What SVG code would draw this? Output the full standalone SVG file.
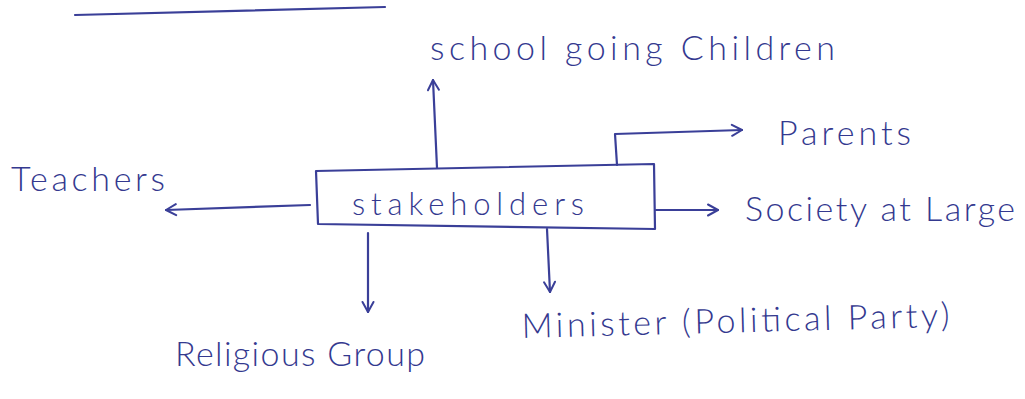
<svg xmlns="http://www.w3.org/2000/svg" width="1025" height="399" viewBox="0 0 1025 399">
  <style>
    .ink { fill: none; stroke: #3a3f98; stroke-width: 2.2; stroke-linecap: round; stroke-linejoin: round; }
    .lbl { font-family: "Lato", "Open Sans", sans-serif; font-weight: 300; fill: #34398f; }
  </style>
  <defs>
    <marker id="head" viewBox="0 0 14 14" refX="12" refY="7" markerWidth="14" markerHeight="14" markerUnits="userSpaceOnUse" orient="auto">
      <path d="M2,1.5 L12,7 L2,12.5" fill="none" stroke="#3a3f98" stroke-width="2" stroke-linecap="round" stroke-linejoin="round"/>
    </marker>
  </defs>
  <rect width="1025" height="399" fill="#ffffff"/>

  <!-- heading rule -->
  <path class="ink" d="M75,15 L385,7"/>

  <!-- central node -->
  <g id="stakeholders">
    <path class="ink" d="M316,171 L654,164 L655,229 L318,224 Z"/>
    <text class="lbl" x="352" y="215" font-size="31" textLength="232">stakeholders</text>
  </g>

  <!-- connectors -->
  <g id="connectors">
    <path class="ink" d="M437,168 L433,80" marker-end="url(#head)"/>
    <path class="ink" d="M617,165 L615,134 L742,130" marker-end="url(#head)"/>
    <path class="ink" d="M310,205 L166,210" marker-end="url(#head)"/>
    <path class="ink" d="M656,210 L718,210" marker-end="url(#head)"/>
    <path class="ink" d="M368,233 L368,312" marker-end="url(#head)"/>
    <path class="ink" d="M547,229 L550,292" marker-end="url(#head)"/>
  </g>

  <g id="school-children">
    <text class="lbl" x="430" y="60" font-size="34" textLength="405">school going Children</text>
  </g>
  <g id="parents">
    <text class="lbl" x="778" y="145" font-size="34" textLength="133">Parents</text>
  </g>
  <g id="teachers">
    <text class="lbl" x="11" y="191" font-size="34" textLength="154">Teachers</text>
  </g>
  <g id="society">
    <text class="lbl" x="745" y="221" font-size="34" textLength="270">Society at Large</text>
  </g>
  <g id="religious-group">
    <text class="lbl" x="175" y="366" font-size="34" textLength="250">Religious Group</text>
  </g>
  <g id="minister">
    <text class="lbl" x="522" y="338" font-size="34" textLength="428" transform="rotate(-1.5 522 338)">Minister (Political Party)</text>
  </g>
</svg>
